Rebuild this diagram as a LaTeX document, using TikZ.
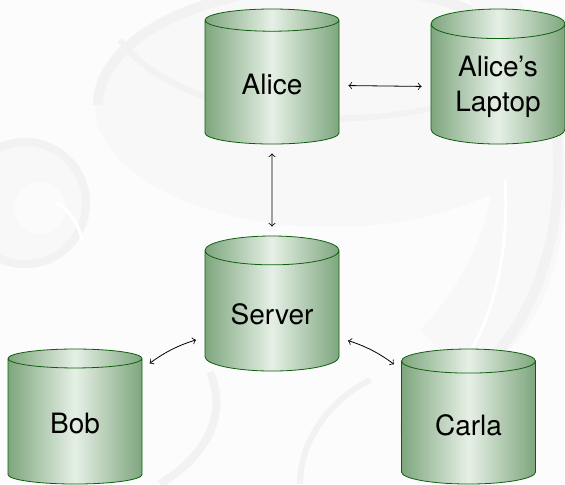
\documentclass[tikz,border=0pt]{standalone}
\usepackage{fontspec}
\setmainfont{TeX Gyre Heros}
\usetikzlibrary{shapes.geometric,arrows}
\definecolor{cylside}{RGB}{126,166,126}
\definecolor{cylmid}{RGB}{230,240,230}
\definecolor{cylline}{RGB}{15,95,15}
\definecolor{paper}{RGB}{248,248,248}
\definecolor{swirl}{RGB}{242,242,242}
\tikzset{
    host/.style={
        cylinder, shape border rotate=90, aspect=0.3,
        draw=cylline, thin,
        left color=cylside, right color=cylside, middle color=cylmid,
        minimum width=67pt, minimum height=67.5pt,
        align=center, font=\fontsize{14}{17.5}\selectfont,
        anchor=shape center
    },
    link/.style={<->, thin, shorten <=4.5pt, shorten >=4.5pt},
}
\begin{document}
\begin{tikzpicture}[x=0.5pt,y=-0.5pt]
    \useasboundingbox (0,0) rectangle (565,484);
    % watermark in the background
    \fill[white!60!paper] (0,0) rectangle (565,484);
    \fill[paper] (330,105) ellipse [x radius=235, y radius=122];
    \draw[swirl, line width=5pt] (98,105) arc [start angle=180, end angle=330, x radius=232, y radius=119];
    \draw[swirl, line width=3pt] (120,40) arc [start angle=160, end angle=60, x radius=232, y radius=119];
    \fill[paper] (25,203) circle [radius=65];
    \draw[swirl, line width=4pt] (25,203) circle [radius=61];
    \fill[white!50!paper] (40,208) circle [radius=26];
    \draw[white, line width=1.5pt] (82,240) arc [start angle=-10, end angle=-60, radius=55];
    \fill[paper] (520,0) .. controls (600,150) and (570,330) .. (470,380) -- (420,330) .. controls (500,250) and (520,120) .. (470,0) -- cycle;
    \draw[swirl, line width=5pt] (525,10) .. controls (585,150) and (560,300) .. (478,372);
    \draw[white, line width=1.5pt] (505,180) .. controls (510,260) and (490,330) .. (455,375);
    \draw[swirl, line width=4pt] (210,372) .. controls (230,420) and (200,460) .. (160,484);
    \draw[swirl, line width=3pt] (300,484) .. controls (300,440) and (330,400) .. (370,380);
    \draw[swirl, line width=3pt] (450,484) .. controls (400,460) and (390,420) .. (420,395);

    \foreach \name/\x/\y/\txt in {alice/272/76.5/Alice, laptop/498/76.5/{Alice’s\\Laptop}, server/272/303.5/Server, bob/75/416.5/Bob, carla/468.5/416.5/Carla}
        \node[host] (\name) at (\x,\y) {\txt};

    \draw[link] (alice) -- (laptop);
    \draw[link] (alice) -- (server);
    \draw[link] (bob) to[bend left=10] (server);
    \draw[link] (server) to[bend left=10] (carla);
\end{tikzpicture}
\end{document}
